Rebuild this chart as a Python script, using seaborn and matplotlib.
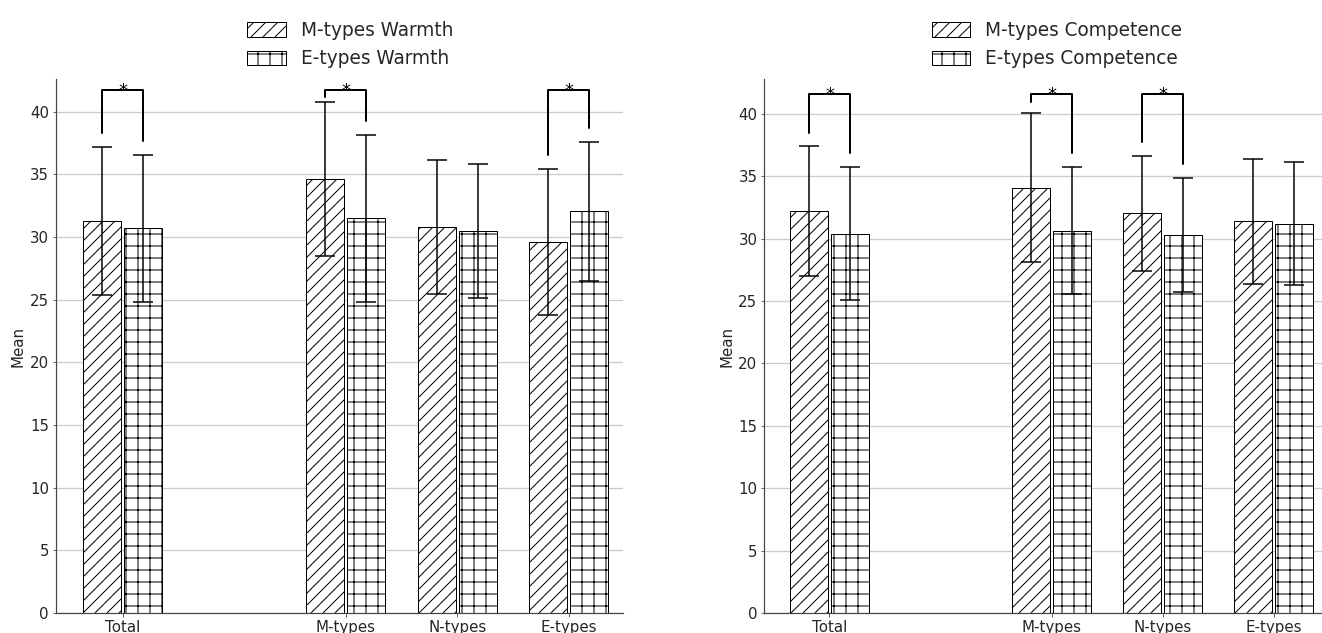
import numpy as np
import pandas as pd
import matplotlib
matplotlib.use("Agg")
import matplotlib.pyplot as plt
from matplotlib.patches import Patch
import seaborn as sns

# ----------------------------
# DATA
# ----------------------------
categories = ["Total", "M-types", "N-types", "E-types"]

warmth_m_mean = [31.3, 34.6, 30.8, 29.6]
warmth_m_sd = [5.9, 6.15, 5.35, 5.8]
warmth_e_mean = [30.7, 31.5, 30.45, 32.05]
warmth_e_sd = [5.85, 6.65, 5.35, 5.55]

comp_m_mean = [32.2, 34.1, 32.05, 31.4]
comp_m_sd = [5.2, 6.0, 4.6, 5.0]
comp_e_mean = [30.4, 30.65, 30.3, 31.2]
comp_e_sd = [5.35, 5.1, 4.55, 4.95]

warmth_sig = ["Total", "M-types", "E-types"]
comp_sig = ["Total", "M-types", "N-types"]

# ----------------------------
# STYLE / LAYOUT
# ----------------------------
DPI = 72
sns.set_style("ticks")
plt.rcParams["font.family"] = ["DejaVu Sans"]
plt.rcParams["hatch.linewidth"] = 1.0

order = ["Total", " ", "M-types", "N-types", "E-types"]   # blank slot = gap
hatches = ["//", "+"]

fig = plt.figure(figsize=(1322 / DPI, 633 / DPI), dpi=DPI)
ax_w = fig.add_axes([56 / 1322, 20 / 633, 567 / 1322, 534 / 633])
ax_c = fig.add_axes([764.4 / 1322, 20 / 633, 557.6 / 1322, 534 / 633])


def draw_panel(ax, m_mean, m_sd, e_mean, e_sd, labels, sig, ylim, xlim, leg_x, top):
    df = pd.DataFrame({
        "Type": categories * 2,
        "Group": [labels[0]] * len(categories) + [labels[1]] * len(categories),
        "Mean": m_mean + e_mean,
        "SD": m_sd + e_sd,
    })
    sns.barplot(data=df, x="Type", y="Mean", hue="Group", order=order,
                hue_order=labels, palette=["white", "white"], edgecolor="black",
                linewidth=1.0, width=0.74, gap=0.08, errorbar=None,
                legend=False, ax=ax)

    # hatches + error bars
    centers = {}
    for cont, hatch, lab in zip(ax.containers, hatches, labels):
        bars = sorted(cont.patches, key=lambda b: b.get_x())
        xs = []
        for b in bars:
            b.set_hatch(hatch)
            xs.append(b.get_x() + b.get_width() / 2)
        centers[lab] = xs
        sub = df[df["Group"] == lab]
        ax.errorbar(xs, sub["Mean"], yerr=sub["SD"], fmt="none", ecolor="black",
                    elinewidth=1.5, capsize=10, capthick=1.5, zorder=4)

    # significance brackets
    upper_m = np.array(m_mean) + np.array(m_sd)
    upper_e = np.array(e_mean) + np.array(e_sd)
    for cat in sig:
        i = categories.index(cat)
        x1, x2 = centers[labels[0]][i], centers[labels[1]][i]
        y1 = min(upper_m[i] + 1.1, top - 0.6)
        y2 = min(upper_e[i] + 1.1, top - 0.6)
        ax.plot([x1, x1, x2, x2], [y1, top, top, y2], color="black", lw=2, zorder=5)
        ax.annotate("*", xy=((x1 + x2) / 2, top), xytext=(0, -6),
                    textcoords="offset points", ha="center", va="baseline",
                    fontsize=18, color="black")

    ax.set_xticks([0, 2, 3, 4])
    ax.set_xticklabels(categories)
    ax.set_xlim(*xlim)
    ax.set_ylim(*ylim)
    ax.set_yticks(range(0, 41, 5))
    ax.set_xlabel("")
    ax.set_ylabel("Mean", fontsize=15)
    ax.tick_params(labelsize=15, length=3.5, color="#444444")
    ax.yaxis.grid(True, color="#cccccc", linewidth=1.3)
    ax.xaxis.grid(False)
    ax.set_axisbelow(True)
    sns.despine(ax=ax)
    for s in ["left", "bottom"]:
        ax.spines[s].set_color("#444444")
        ax.spines[s].set_linewidth(1.2)

    handles = [Patch(facecolor="white", edgecolor="black", hatch=h, label=l)
               for h, l in zip(hatches, labels)]
    ax.legend(handles=handles, loc="upper center", bbox_to_anchor=(leg_x, 0.993),
              bbox_transform=fig.transFigure, frameon=False, fontsize=18.5,
              handlelength=2.1, handleheight=0.85)


draw_panel(ax_w, warmth_m_mean, warmth_m_sd, warmth_e_mean, warmth_e_sd,
           ["M-types Warmth", "E-types Warmth"], warmth_sig,
           (0, 42.6), (-0.599, 4.486), 0.2647, 41.76)
draw_panel(ax_c, comp_m_mean, comp_m_sd, comp_e_mean, comp_e_sd,
           ["M-types Competence", "E-types Competence"], comp_sig,
           (0, 42.8), (-0.586, 4.435), 0.7995, 41.56)

fig.savefig("out.png", dpi=DPI)
